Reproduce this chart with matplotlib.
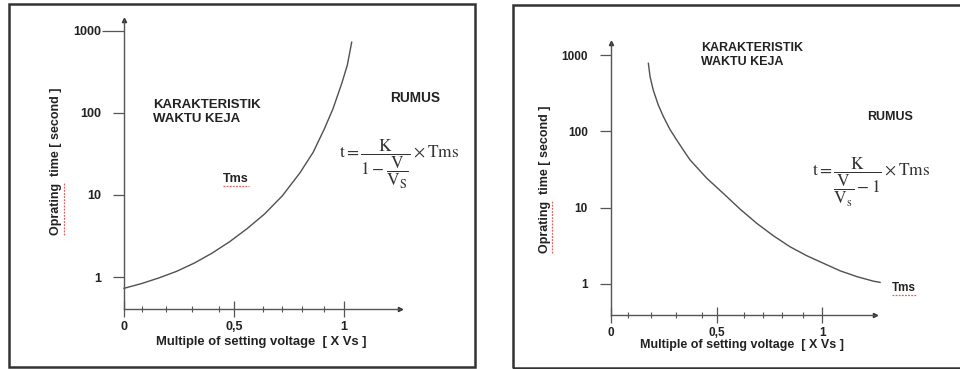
import matplotlib
matplotlib.use("Agg")
import matplotlib.pyplot as plt
from matplotlib.patches import Rectangle
from matplotlib.lines import Line2D
from matplotlib.ticker import FixedLocator, NullLocator

plt.rcParams['font.family'] = ['Liberation Sans', 'DejaVu Sans']
plt.rcParams['mathtext.fontset'] = 'stix'

# kurva kiri (tegangan lebih) dan kanan (tegangan kurang)
left_x = [0.0, 0.08, 0.16, 0.24, 0.32, 0.40, 0.48, 0.56, 0.64,
          0.72, 0.80, 0.86, 0.91, 0.95, 0.99, 1.015, 1.035]
left_y = [0.728, 0.832, 0.977, 1.175, 1.48, 1.95, 2.69, 3.89, 5.89,
          9.77, 18.6, 33.1, 63.1, 112, 229, 380, 724]

right_x = [0.178, 0.186, 0.201, 0.225, 0.249, 0.280, 0.312, 0.343, 0.375, 0.454, 0.532,
           0.611, 0.690, 0.768, 0.847, 0.926, 1.005, 1.084, 1.163, 1.241, 1.273]
right_y = [779, 520, 348, 221, 156, 106, 77, 57, 42.2, 24.3, 15.4,
           9.6, 6.24, 4.3, 3.08, 2.35, 1.87, 1.49, 1.25, 1.09, 1.05]

x_major = [0, 0.5, 1]
x_major_labels = ['0', '0,5', '1']
x_minor = [0.08, 0.19, 0.31, 0.43, 0.63, 0.72, 0.81, 0.91]
y_major = [1, 10, 100, 1000]
y_major_labels = ['1', '10', '100', '1000']

ylabel = 'Oprating  time [ second ]'
xlabel = 'Multiple of setting voltage  [ X Vs ]'
title_lines = 'KARAKTERISTIK\nWAKTU KEJA'

formula_left = r'$\mathrm{t}=\dfrac{\mathrm{K}}{1-\dfrac{\mathrm{V}}{\mathrm{V_S}}}\times\mathrm{Tms}$'
formula_right = r'$\mathrm{t}=\dfrac{\mathrm{K}}{\dfrac{\mathrm{V}}{\mathrm{V_s}}-1}\times\mathrm{Tms}$'

W, H = 960, 369
fig = plt.figure(figsize=(W / 100, H / 100), dpi=100)
fig.patch.set_facecolor('white')


def fx(px):
    return px / W


def fy(py):
    return 1 - py / H


# bingkai luar
fig.patches.append(Rectangle((fx(9), fy(367)), fx(466), 363 / H, transform=fig.transFigure,
                             fill=False, ec='#333333', lw=1.8))
fig.patches.append(Rectangle((fx(513), fy(368)), fx(460), 363 / H, transform=fig.transFigure,
                             fill=False, ec='#333333', lw=1.8, clip_on=False))

ax1 = fig.add_axes([fx(124), fy(309), fx(276), 289 / H])
ax2 = fig.add_axes([fx(610.7), fy(315), fx(264.3), 272 / H])


def style_axis(ax, xmax, ylo, yhi, fs):
    ax.set_yscale('log')
    ax.set_xlim(0, xmax)
    ax.set_ylim(ylo, yhi)
    for s in ['top', 'right']:
        ax.spines[s].set_visible(False)
    for s in ['left', 'bottom']:
        ax.spines[s].set_color('#555555')
        ax.spines[s].set_linewidth(1.0)
    ax.xaxis.set_major_locator(FixedLocator(x_major))
    ax.set_xticklabels(x_major_labels, fontweight='bold')
    ax.xaxis.set_minor_locator(FixedLocator(x_minor))
    ax.yaxis.set_major_locator(FixedLocator(y_major))
    ax.yaxis.set_minor_locator(NullLocator())
    ax.set_yticklabels(y_major_labels, fontweight='bold')
    ax.tick_params(axis='y', which='major', direction='out', length=8, width=0.9,
                   pad=8.5, color='#555555', labelcolor='#222222', labelsize=fs)
    ax.tick_params(axis='x', which='major', direction='inout', length=12, width=0.9,
                   pad=3, color='#555555', labelcolor='#222222', labelsize=fs)
    ax.tick_params(axis='x', which='minor', direction='inout', length=5, width=0.8,
                   color='#555555')
    ax.plot(0, 1, marker='^', ms=3, color='#333333', transform=ax.transAxes, clip_on=False)
    ax.plot(1, 0, marker='>', ms=3, color='#333333', transform=ax.transAxes, clip_on=False)
    ax.patch.set_alpha(0)


style_axis(ax1, 276 / 220, 10 ** (-32 / 82.1), 10 ** (257 / 82.1), 9)
style_axis(ax2, 264.3 / 211.6, 10 ** (-31 / 76.33), 10 ** (241 / 76.33), 8.5)
# tick 1000 di panel kiri lebih panjang
ax1.yaxis.get_major_ticks()[-1].tick1line.set_markersize(16)

ax1.plot(left_x, left_y, color='#505050', lw=1.0, clip_on=False)
ax2.plot(right_x, right_y, color='#505050', lw=1.0, clip_on=False)

txt = dict(color='#222222', fontweight='bold')
# panel kiri
yl1 = fig.text(fx(56.5), fy(161.7), ylabel, rotation=90, ha='center', va='center', fontsize=9, **txt)
fig.text(fx(261.5), fy(342), xlabel, ha='center', va='center', fontsize=9.4, **txt)
fig.text(fx(153), fy(112), title_lines, ha='left', va='center', fontsize=9.5,
         linespacing=1.2, **txt)
tms1 = fig.text(fx(223), fy(179), 'Tms', ha='left', va='center', fontsize=9, **txt)
fig.text(fx(415), fy(98), 'RUMUS', ha='center', va='center', fontsize=9.8, **txt)
fig.text(fx(339), fy(164), formula_left, ha='left', va='center', fontsize=12.5, color='#333333')

# panel kanan
yl2 = fig.text(fx(545), fy(179), ylabel, rotation=90, ha='center', va='center', fontsize=9, **txt)
fig.text(fx(741.7), fy(345), xlabel, ha='center', va='center', fontsize=9, **txt)
fig.text(fx(701), fy(55), title_lines, ha='left', va='center', fontsize=9,
         linespacing=1.2, **txt)
tms2 = fig.text(fx(892), fy(288), 'Tms', ha='left', va='center', fontsize=8.5, **txt)
fig.text(fx(890), fy(117), 'RUMUS', ha='center', va='center', fontsize=9, **txt)
fig.text(fx(812), fy(182), formula_right, ha='left', va='center', fontsize=12.5, color='#333333')

# garis merah ejaan (spell-check) di bawah kata tertentu
fig.canvas.draw()
renderer = fig.canvas.get_renderer()


def word_width(t, word):
    tmp = fig.text(0, 0, word, fontsize=t.get_fontsize(), family=t.get_fontfamily(),
                   fontweight=t.get_fontweight())
    w = tmp.get_window_extent(renderer).width
    tmp.remove()
    return w


def underline(t, word, vertical=False):
    bb = t.get_window_extent(renderer)
    w = word_width(t, word)
    if vertical:
        xs = [bb.x1 + 1, bb.x1 + 1]
        ys = [bb.y0, bb.y0 + w]
    else:
        xs = [bb.x0, bb.x0 + w]
        ys = [bb.y0 - 1, bb.y0 - 1]
    fig.lines.append(Line2D([x / W for x in xs], [y / H for y in ys], transform=fig.transFigure,
                            color='#e06060', lw=0.9, ls=(0, (1.5, 1))))


underline(yl1, 'Oprating', vertical=True)
underline(yl2, 'Oprating', vertical=True)
underline(tms1, 'Tms')
underline(tms2, 'Tms')

fig.savefig('out.png', dpi=100)
